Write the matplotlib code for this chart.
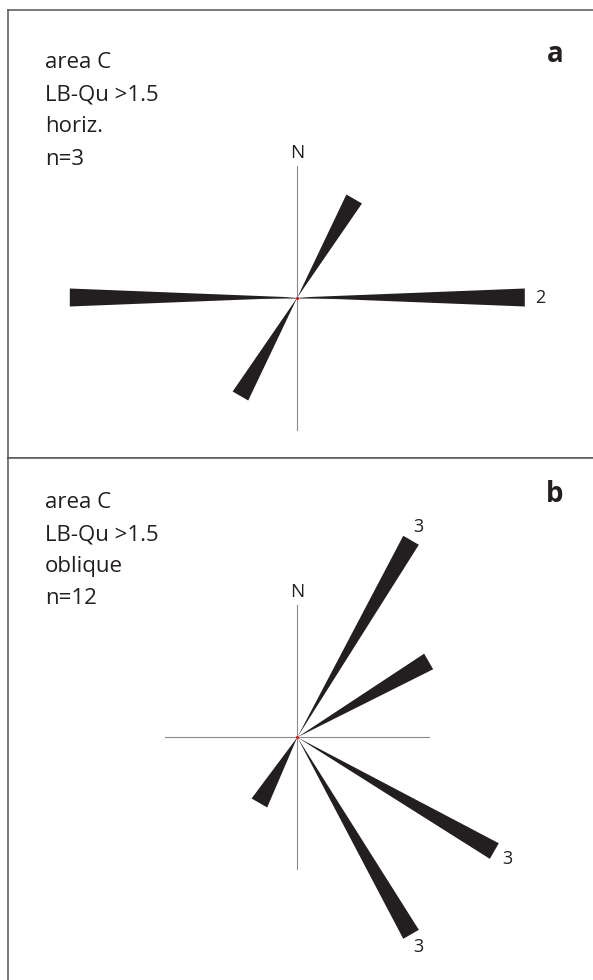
import numpy as np
import matplotlib
matplotlib.use('Agg')
import matplotlib.pyplot as plt

plt.rcParams['font.family'] = ['Open Sans', 'DejaVu Sans']

# 데이터: 방위(도, 북쪽 기준 시계방향)와 빈도
dir_a = [30, 90, 210, 270]
count_a = [1, 2, 1, 2]
labelled_a = [90]
info_a = ['area C', 'LB-Qu >1.5', 'horiz.', 'n=3']

dir_b = [30, 60, 120, 150, 210]
count_b = [3, 2, 3, 3, 1]
labelled_b = [30, 120, 150]
info_b = ['area C', 'LB-Qu >1.5', 'oblique', 'n=12']

W, H = 593, 980
fig = plt.figure(figsize=(W / 100, H / 100), dpi=100)

PETAL = '#231f20'
MAX_LEN = 227.5   # px, 가장 긴 꽃잎 길이
TIP_W = 18        # px, 꽃잎 끝 폭
CROSS = 132       # px, 십자선 반길이


def rose_panel(top, bottom, cx, cy, dirs, counts, labelled, info, letter):
    x0, x1 = 7.5, 610
    ax = fig.add_axes([x0 / W, 1 - bottom / H, (x1 - x0) / W, (bottom - top) / H])
    s = MAX_LEN / max(counts)   # px per count
    ax.set_xlim((x0 - cx) / s, (x1 - cx) / s)
    ax.set_ylim((cy - bottom) / s, (cy - top) / s)
    ax.set_xticks([])
    ax.set_yticks([])
    for sp in ax.spines.values():
        sp.set_color('#555555')
        sp.set_linewidth(1.1)

    c = CROSS / s
    ax.plot([0, 0], [-c, c], color='#8a8a8a', lw=0.8, zorder=1)
    ax.plot([-c, c], [0, 0], color='#8a8a8a', lw=0.8, zorder=1)

    hw = TIP_W / 2 / s
    for d, n in zip(dirs, counts):
        t = np.radians(d)
        ux, uy = np.sin(t), np.cos(t)
        px_, py_ = np.cos(t), -np.sin(t)
        xs = [0, n * ux + hw * px_, n * ux - hw * px_]
        ys = [0, n * uy + hw * py_, n * uy - hw * py_]
        ax.fill(xs, ys, color=PETAL, lw=0, zorder=2)
        if d in labelled:
            r = n + 15 / s
            ax.text(r * ux, r * uy, str(n), ha='center', va='center',
                    fontsize=13, color='#231f20')

    ax.plot(0, 0, 'o', color='#d02020', ms=1.2, zorder=3)
    ax.text(0, c + 4 / s, 'N', ha='center', va='bottom', fontsize=13.5, color='#231f20')

    for i, line in enumerate(info):
        fig.text(45 / W, 1 - (cy - 229.5 + i * 32.2) / H, line, ha='left',
                 va='baseline', fontsize=16, color='#231f20')
    fig.text(555 / W, 1 - (cy - 235) / H, letter, ha='center', va='baseline',
             fontsize=20, fontweight='bold', color='#231f20')


rose_panel(10, 458, 297.3, 297.5, dir_a, count_a, labelled_a, info_a, 'a')
rose_panel(458, 1000, 297.3, 737.3, dir_b, count_b, labelled_b, info_b, 'b')

fig.savefig('out.png', dpi=100, facecolor='white')
